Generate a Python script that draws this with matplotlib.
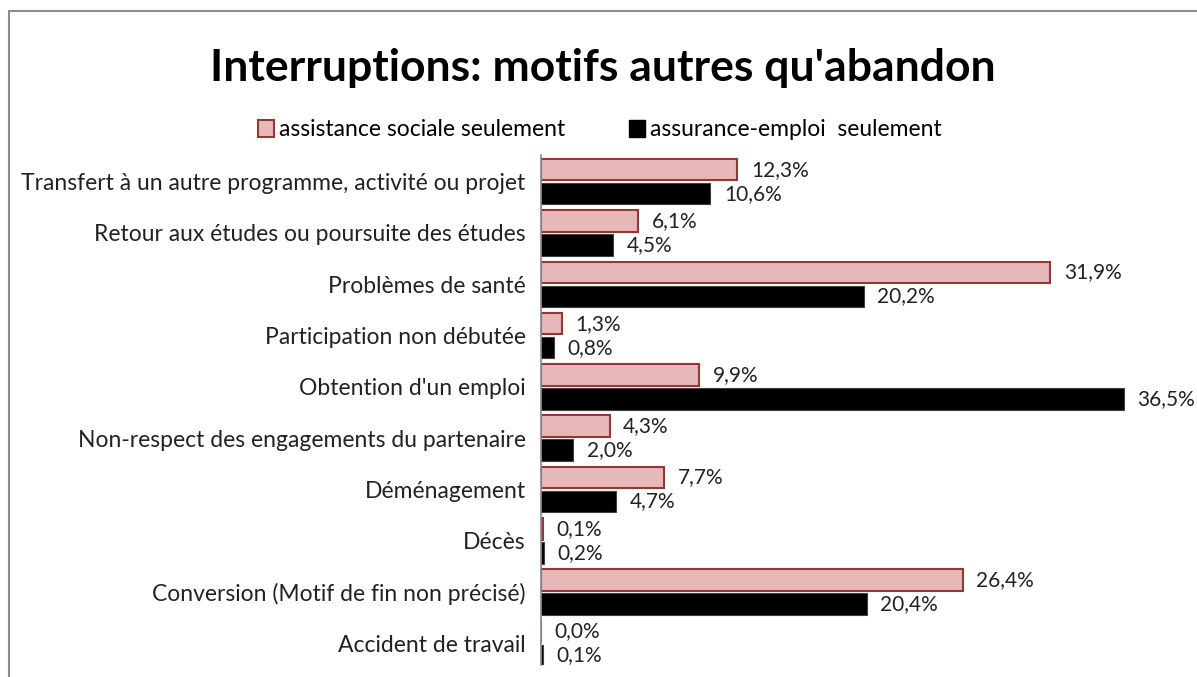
import matplotlib
matplotlib.use('Agg')
import matplotlib.pyplot as plt
from matplotlib.patches import Rectangle, Patch

plt.rcParams['font.family'] = ['Lato', 'DejaVu Sans']

# Data (percent)
categories = [
    "Transfert à un autre programme, activité ou projet",
    "Retour aux études ou poursuite des études",
    "Problèmes de santé",
    "Participation non débutée",
    "Obtention d'un emploi",
    "Non-respect des engagements du partenaire",
    "Déménagement",
    "Décès",
    "Conversion (Motif de fin non précisé)",
    "Accident de travail",
]
assistance_sociale = [12.3, 6.1, 31.9, 1.3, 9.9, 4.3, 7.7, 0.1, 26.4, 0.0]
assurance_emploi = [10.6, 4.5, 20.2, 0.8, 36.5, 2.0, 4.7, 0.2, 20.4, 0.1]
series_names = ["assistance sociale seulement", "assurance-emploi  seulement"]

pink = '#E6B9B8'
pink_edge = '#953735'

fig = plt.figure(figsize=(11.97, 6.77), dpi=100)
ax = fig.add_axes([541 / 1197, 1 - 665 / 677, (1190 - 541) / 1197, (665 - 155) / 677])

pos = list(range(len(categories)))
off = 0.234
h = 0.42
ax.barh([p - off for p in pos], assistance_sociale, height=h, color=pink,
        edgecolor=pink_edge, linewidth=1.5)
ax.barh([p + off for p in pos], assurance_emploi, height=h, color='black',
        edgecolor='#404040', linewidth=0.8)

for p, v in zip(pos, assistance_sociale):
    ax.text(v + 0.85, p - off, f"{v:.1f}%".replace('.', ','), va='center', ha='left',
            fontsize=15, color='#222222')
for p, v in zip(pos, assurance_emploi):
    ax.text(v + 0.85, p + off, f"{v:.1f}%".replace('.', ','), va='center', ha='left',
            fontsize=15, color='#222222')

ax.set_xlim(0, (1190 - 541) / 15.97)
ax.set_ylim(9.42, -0.52)
ax.set_yticks(pos)
ax.set_yticklabels(categories, fontsize=16.5, color='#222222')
ax.tick_params(axis='y', length=0, pad=11)
ax.set_xticks([])
for s in ['top', 'right', 'bottom']:
    ax.spines[s].set_visible(False)
ax.spines['left'].set_color('#888888')
ax.spines['left'].set_linewidth(1.2)

fig.text(603 / 1197, 1 - 68 / 677, "Interruptions: motifs autres qu'abandon",
         ha='center', va='center', fontsize=32, fontweight='bold')

handles = [Patch(facecolor=pink, edgecolor=pink_edge, linewidth=1.5),
           Patch(facecolor='black', edgecolor='black')]
fig.legend(handles, series_names, loc='center', bbox_to_anchor=(600 / 1197, 1 - 130 / 677),
           ncol=2, frameon=False, fontsize=16.5, handlelength=0.7, handleheight=0.7,
           handletextpad=0.2, columnspacing=2.8)

# outer chart border
fig.add_artist(Rectangle((9 / 1197, -0.5), 2, 1.5 - 11 / 677,
                         transform=fig.transFigure, fill=False,
                         edgecolor='#8c8c8c', linewidth=1.5))

fig.savefig('out.png', dpi=100)
